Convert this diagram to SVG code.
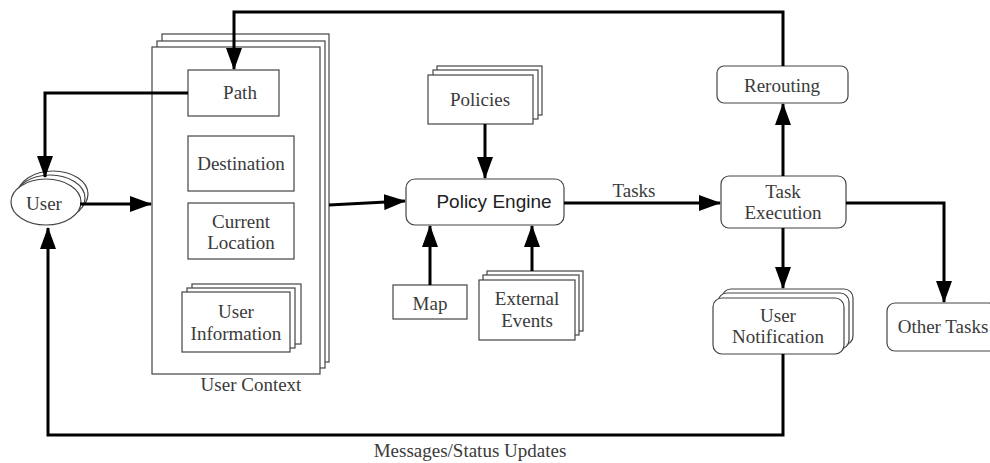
<svg xmlns="http://www.w3.org/2000/svg" width="990" height="463" viewBox="0 0 990 463">
<style>
.box{fill:#fff;stroke:#444;stroke-width:1.2}
.t{font-family:"Liberation Serif","Times New Roman",serif;font-size:19px;fill:#3a3a3a;text-anchor:middle}
.s{font-family:"Liberation Sans",Arial,sans-serif;font-size:19px;fill:#222;text-anchor:middle}
.c{fill:none;stroke:#000;stroke-width:3}
</style>
<defs>
<marker id="a" markerUnits="userSpaceOnUse" markerWidth="22" markerHeight="16" refX="21" refY="8" orient="auto">
<path d="M0,0 L22,8 L0,16 Z" fill="#000"/>
</marker>
</defs>
<rect width="990" height="463" fill="#fff"/>
<g id="user">
<ellipse class="box" cx="53" cy="194" rx="35" ry="23"/>
<ellipse class="box" cx="50" cy="198" rx="35" ry="23"/>
<ellipse class="box" cx="46" cy="202" rx="35" ry="23"/>
<text class="t" x="44" y="210">User</text>
</g>
<g id="user-context">
<rect class="box" x="162" y="34" width="167" height="328"/>
<rect class="box" x="157" y="41" width="168" height="327"/>
<rect class="box" x="152" y="47" width="168" height="327"/>
<text class="t" x="251" y="391">User Context</text>
</g>
<g id="path">
<rect class="box" x="188" y="70" width="91" height="46"/>
<text class="t" x="240" y="99">Path</text>
</g>
<g id="destination">
<rect class="box" x="188" y="136" width="106" height="55"/>
<text class="t" x="241" y="170">Destination</text>
</g>
<g id="current-location">
<rect class="box" x="188" y="203" width="106" height="56"/>
<text class="t" x="241" y="228">Current</text>
<text class="t" x="241" y="249">Location</text>
</g>
<g id="user-information">
<rect class="box" x="192" y="284" width="109" height="60"/>
<rect class="box" x="187" y="288" width="108" height="60"/>
<rect class="box" x="182" y="292" width="108" height="60"/>
<text class="t" x="236" y="318">User</text>
<text class="t" x="236" y="340">Information</text>
</g>
<g id="policies">
<rect class="box" x="437" y="66" width="105" height="49"/>
<rect class="box" x="433" y="70" width="105" height="49"/>
<rect class="box" x="428" y="75" width="105" height="49"/>
<text class="t" x="480" y="106">Policies</text>
</g>
<g id="policy-engine">
<rect class="box" x="406" y="179" width="158" height="46" rx="9"/>
<text class="s" x="494" y="208">Policy Engine</text>
</g>
<g id="map">
<rect class="box" x="393" y="285" width="74" height="34"/>
<text class="t" x="430" y="310">Map</text>
</g>
<g id="external-events">
<rect class="box" x="487" y="271" width="96" height="60"/>
<rect class="box" x="483" y="275" width="96" height="60"/>
<rect class="box" x="479" y="280" width="96" height="60"/>
<text class="t" x="527" y="305">External</text>
<text class="t" x="527" y="327">Events</text>
</g>
<g id="rerouting">
<rect class="box" x="717" y="66" width="131" height="37" rx="7"/>
<text class="t" x="782" y="92">Rerouting</text>
</g>
<g id="task-execution">
<rect class="box" x="721" y="176" width="125" height="52" rx="8"/>
<text class="t" x="783" y="198">Task</text>
<text class="t" x="783" y="219">Execution</text>
</g>
<g id="user-notification">
<rect class="box" x="722" y="289" width="131" height="56" rx="9"/>
<rect class="box" x="718" y="293" width="131" height="56" rx="9"/>
<rect class="box" x="713" y="298" width="131" height="56" rx="9"/>
<text class="t" x="778" y="322">User</text>
<text class="t" x="778" y="343">Notification</text>
</g>
<g id="other-tasks">
<rect class="box" x="887" y="303" width="110" height="48" rx="8"/>
<text class="t" x="943" y="333">Other Tasks</text>
</g>
<g id="connectors">
<path class="c" d="M783,66 V12 H234 V69" marker-end="url(#a)"/>
<path class="c" d="M188,93 H45 V177" marker-end="url(#a)"/>
<path class="c" d="M783,354 V435 H48 V228" marker-end="url(#a)"/>
<path class="c" d="M80,204 H151" marker-end="url(#a)"/>
<path class="c" d="M329,205 L405,201" marker-end="url(#a)"/>
<path class="c" d="M485,124 V178" marker-end="url(#a)"/>
<path class="c" d="M430,285 V226" marker-end="url(#a)"/>
<path class="c" d="M532,271 V226" marker-end="url(#a)"/>
<path class="c" d="M564,203 H720" marker-end="url(#a)"/>
<path class="c" d="M783,176 V104" marker-end="url(#a)"/>
<path class="c" d="M783,228 V288" marker-end="url(#a)"/>
<path class="c" d="M846,203 H944 V302" marker-end="url(#a)"/>
<text class="t" x="634" y="197">Tasks</text>
<text class="t" x="470" y="457">Messages/Status Updates</text>
</g>
</svg>
